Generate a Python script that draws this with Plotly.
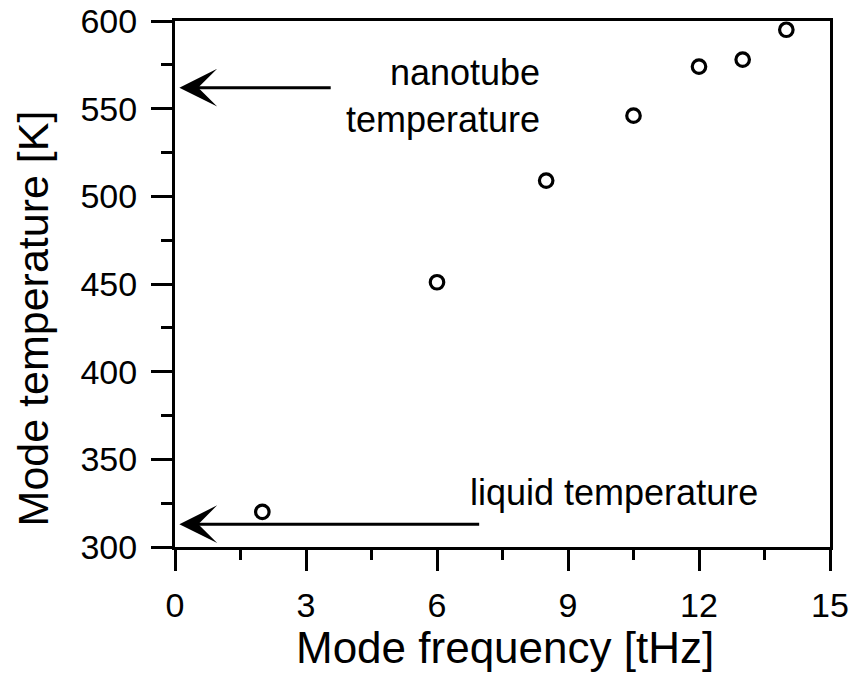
import plotly.graph_objects as go

# Data
mode_frequency = [2.0, 6.0, 8.5, 10.5, 12.0, 13.0, 14.0]
mode_temperature = [320, 451, 509, 546, 574, 578, 595]

nanotube_temperature = 562
liquid_temperature = 313

x_ticks = [0, 3, 6, 9, 12, 15]
y_ticks = [300, 350, 400, 450, 500, 550, 600]

FONT = "Liberation Sans, Arial, sans-serif"

fig = go.Figure()
fig.add_trace(go.Scatter(
    x=mode_frequency, y=mode_temperature, mode="markers",
    marker=dict(symbol="circle-open", size=13.5, color="black",
                line=dict(width=3.2, color="black")),
    showlegend=False, cliponaxis=False,
))

axis_common = dict(
    showline=True, linewidth=3, linecolor="black", mirror=True,
    ticks="outside", ticklen=21, tickwidth=3, tickcolor="black",
    showgrid=False, zeroline=False, automargin=False,
    tickfont=dict(family=FONT, size=34, color="black"),
)

fig.update_xaxes(
    range=[0, 15], tickvals=x_ticks, ticktext=[str(v) for v in x_ticks],
    minor=dict(dtick=1.5, tick0=0, ticks="outside", ticklen=10, tickwidth=3,
               tickcolor="black", showgrid=False),
    ticklabelstandoff=5,
    **axis_common,
)
fig.update_yaxes(
    range=[300, 600], tickvals=y_ticks, ticktext=[str(v) for v in y_ticks],
    minor=dict(dtick=25, tick0=300, ticks="outside", ticklen=11, tickwidth=3,
               tickcolor="black", showgrid=False),
    ticklabelstandoff=7,
    **axis_common,
)

# Axis titles
fig.add_annotation(x=(506 - 175) / 657, y=(547 - 647) / 526, xref="paper", yref="paper",
                   text="Mode frequency [tHz]", showarrow=False,
                   xanchor="center", yanchor="middle",
                   font=dict(family=FONT, size=44, color="black"))
fig.add_annotation(x=(33 - 175) / 657, y=(547 - 318) / 526, xref="paper", yref="paper",
                   text="Mode temperature [K]", showarrow=False, textangle=-90,
                   xanchor="center", yanchor="middle",
                   font=dict(family=FONT, size=43, color="black"))

# Arrows
fig.add_annotation(x=0.1, y=nanotube_temperature, ax=3.6, ay=nanotube_temperature,
                   xref="x", yref="y", axref="x", ayref="y", text="",
                   showarrow=True, arrowhead=3, arrowwidth=3, arrowsize=2.1,
                   arrowcolor="black")
fig.add_annotation(x=0.1, y=liquid_temperature, ax=7.0, ay=liquid_temperature,
                   xref="x", yref="y", axref="x", ayref="y", text="",
                   showarrow=True, arrowhead=3, arrowwidth=3, arrowsize=2.1,
                   arrowcolor="black")

# Labels
fig.add_annotation(x=8.4, y=557, xref="x", yref="y", text="nanotube<br>temperature",
                   showarrow=False, xanchor="right", yanchor="middle", align="right",
                   font=dict(family=FONT, size=36, color="black"))
fig.add_annotation(x=13.4, y=331, xref="x", yref="y", text="liquid temperature",
                   showarrow=False, xanchor="right", yanchor="middle",
                   font=dict(family=FONT, size=36, color="black"))

fig.update_layout(
    width=857, height=680,
    margin=dict(l=175, r=27, t=21, b=133),
    paper_bgcolor="white", plot_bgcolor="white",
    font=dict(family=FONT, color="black"),
)

fig.write_html("out.html")
